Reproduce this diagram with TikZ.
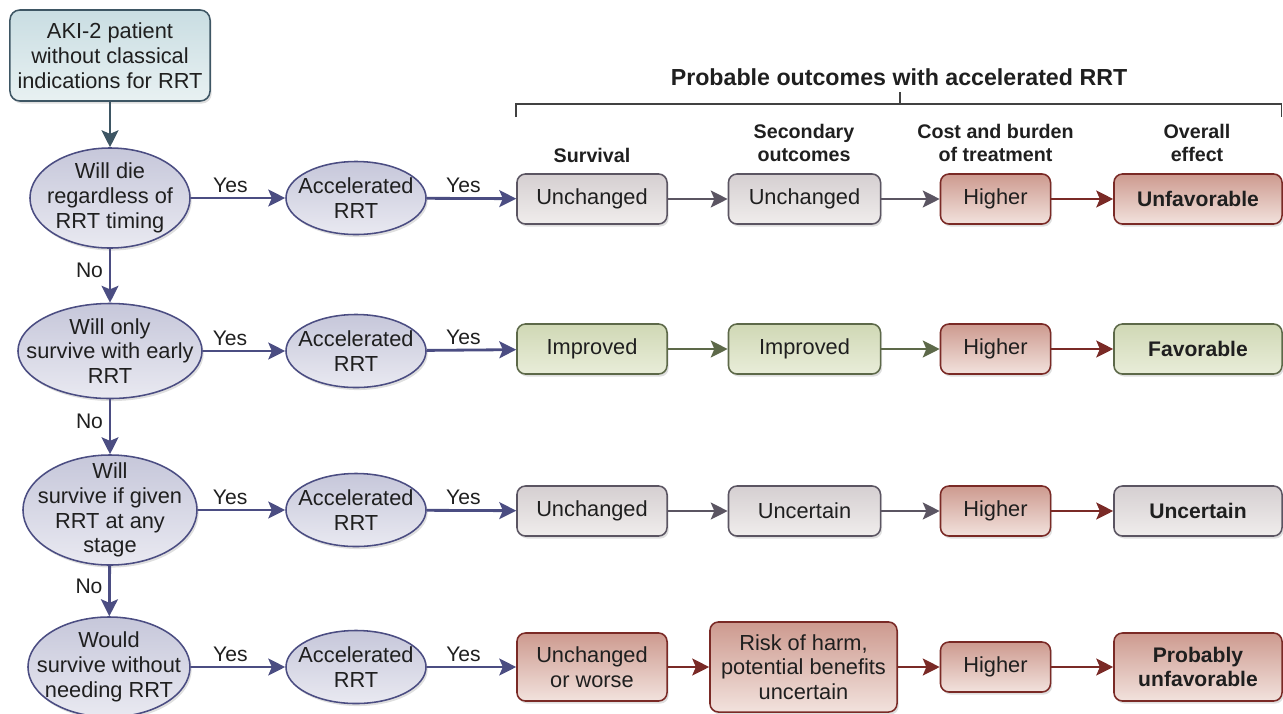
\documentclass[tikz,border=0pt]{standalone}
\usepackage{fontspec}
\setmainfont{Liberation Sans}
\usetikzlibrary{arrows.meta,shapes.geometric,shadows}
\definecolor{txt}{HTML}{1F1F1F}
\definecolor{tealtop}{HTML}{C9DDE2}
\definecolor{tealbot}{HTML}{E8F1F2}
\definecolor{tealline}{HTML}{3E5664}
\definecolor{ovtop}{HTML}{C6C7DA}
\definecolor{ovbot}{HTML}{E9E9F1}
\definecolor{ovline}{HTML}{4B4D82}
\definecolor{graytop}{HTML}{D5CFD1}
\definecolor{graybot}{HTML}{F0EDEC}
\definecolor{grayline}{HTML}{5B5562}
\definecolor{greentop}{HTML}{D0D8B5}
\definecolor{greenbot}{HTML}{E9EDD9}
\definecolor{greenline}{HTML}{5D6949}
\definecolor{redtop}{HTML}{CD9A8F}
\definecolor{redbot}{HTML}{F2E2DD}
\definecolor{redline}{HTML}{7A2A26}

\begin{document}
\begin{tikzpicture}[x=0.025cm,y=-0.025cm]
% STYLES
\tikzset{%
    base/.style={%
        font=\fontsize{15.5}{17.6}\selectfont, text=txt, align=center,
        inner sep=0pt, line width=1.1pt,
        drop shadow={shadow xshift=1.2pt, shadow yshift=-1.8pt, opacity=0.25}
    },
    start/.style={base, rectangle, rounded corners=7pt, draw=tealline,
        top color=tealtop, bottom color=tealbot,
        minimum width=5cm, minimum height=2.275cm},
    decision/.style={base, ellipse, draw=ovline,
        top color=ovtop, bottom color=ovbot,
        inner xsep=-14pt, inner ysep=-14pt},
    accel/.style={decision, minimum width=3.5cm, minimum height=1.825cm},
    outbox/.style={base, rectangle, rounded corners=6pt,
        minimum height=1.25cm},
    grayb/.style={outbox, draw=grayline, top color=graytop, bottom color=graybot},
    greenb/.style={outbox, draw=greenline, top color=greentop, bottom color=greenbot},
    redb/.style={outbox, draw=redline, top color=redtop, bottom color=redbot},
    head/.style={font=\bfseries\fontsize{14}{17}\selectfont, text=txt, align=center},
    link/.style={-{Stealth[length=12pt,width=12pt,inset=2.5pt]}, line width=2pt},
    lbl/.style={font=\fontsize{15}{17.4}\selectfont, text=txt, inner sep=1pt},
    yes/.style={lbl, above=2pt},
    no/.style={lbl, left=3pt, pos=.4}
}
\useasboundingbox (0,0) rectangle (1283,713);
% Decision column
\node [start] (patient) at (110,55.5) {AKI-2 patient\\without classical\\indications for RRT};
\node [decision, minimum width=4cm, minimum height=2.5cm] (die) at (110,198) {Will die\\regardless of\\RRT timing};
\node [decision, minimum width=4.6cm, minimum height=2.375cm] (early) at (110,351) {Will only\\survive with early\\RRT};
\node [decision, minimum width=4.35cm, minimum height=2.75cm] (anystage) at (110,510) {Will\\survive if given\\RRT at any\\stage};
\node [decision, minimum width=4.05cm, minimum height=2.5cm] (without) at (109,667) {Would\\survive without\\needing RRT};
% Accelerated RRT
\node [accel] (acc1) at (356,198) {Accelerated\\RRT};
\node [accel] (acc2) at (356,351) {Accelerated\\RRT};
\node [accel] (acc3) at (356,510) {Accelerated\\RRT};
\node [accel] (acc4) at (356,667) {Accelerated\\RRT};
% Outcome headings
\node [head, font=\bfseries\fontsize{16.5}{19}\selectfont] (title) at (899,77) {Probable outcomes with accelerated RRT};
\node [head] (hsurv) at (592,155) {Survival};
\node [head] (hsec) at (804,143) {Secondary\\outcomes};
\node [head] (hcost) at (995.5,143) {Cost and burden\\of treatment};
\node [head] (heff) at (1197,143) {Overall\\effect};
\draw [line width=0.8pt, draw=txt!85] (516,117) -- (516,104) -- (1281.5,104) -- (1281.5,117)
    (900,104) -- (900,92);
% Outcome rows
\node [grayb, minimum width=3.75cm] (surv1) at (592,199) {Unchanged};
\node [grayb, minimum width=3.8cm] (sec1) at (804.5,199) {Unchanged};
\node [redb, minimum width=2.75cm] (cost1) at (995.5,199) {Higher};
\node [redb, minimum width=4.2cm, font=\bfseries\fontsize{15}{17.4}\selectfont] (eff1) at (1198,199) {Unfavorable};
\node [greenb, minimum width=3.75cm] (surv2) at (592,349) {Improved};
\node [greenb, minimum width=3.8cm] (sec2) at (804.5,349) {Improved};
\node [redb, minimum width=2.75cm] (cost2) at (995.5,349) {Higher};
\node [greenb, minimum width=4.2cm, font=\bfseries\fontsize{15}{17.4}\selectfont] (eff2) at (1198,349) {Favorable};
\node [grayb, minimum width=3.75cm] (surv3) at (592,511) {Unchanged};
\node [grayb, minimum width=3.8cm] (sec3) at (804.5,511) {Uncertain};
\node [redb, minimum width=2.75cm] (cost3) at (995.5,511) {Higher};
\node [grayb, minimum width=4.2cm, font=\bfseries\fontsize{15}{17.4}\selectfont] (eff3) at (1198,511) {Uncertain};
\node [redb, minimum width=3.75cm, minimum height=1.7cm] (surv4) at (592,667) {Unchanged\\or worse};
\node [redb, minimum width=4.675cm, minimum height=2.25cm] (sec4) at (803.5,667) {Risk of harm,\\potential benefits\\uncertain};
\node [redb, minimum width=2.75cm] (cost4) at (995.5,667) {Higher};
\node [redb, minimum width=4.2cm, minimum height=1.7cm, font=\bfseries\fontsize{15}{17.4}\selectfont] (eff4) at (1198,667) {Probably\\unfavorable};
% Links
\draw [link, draw=tealline, fill=tealline] (patient) -- (die);
\path [every edge/.style={draw, link, draw=ovline, fill=ovline}]
    (die) edge node[no] {No} (early)
    (early) edge node[no] {No} (anystage)
    (anystage) edge node[no] {No} (without)
    (die) edge node[yes, pos=.42] {Yes} (acc1)
    (early) edge node[yes, pos=.33] {Yes} (acc2)
    (anystage) edge node[yes, pos=.37] {Yes} (acc3)
    (without) edge node[yes, pos=.42] {Yes} (acc4)
    (acc1) edge node[yes, pos=.41] {Yes} (surv1)
    (acc2) edge node[yes, pos=.41] {Yes} (surv2)
    (acc3) edge node[yes, pos=.41] {Yes} (surv3)
    (acc4) edge node[yes, pos=.41] {Yes} (surv4);
\path [every edge/.style={draw, link, draw=grayline, fill=grayline}]
    (surv1) edge (sec1) (sec1) edge (cost1)
    (surv3) edge (sec3) (sec3) edge (cost3);
\path [every edge/.style={draw, link, draw=greenline, fill=greenline}]
    (surv2) edge (sec2) (sec2) edge (cost2);
\path [every edge/.style={draw, link, draw=redline, fill=redline}]
    (cost1) edge (eff1) (cost2) edge (eff2) (cost3) edge (eff3)
    (surv4) edge (sec4) (sec4) edge (cost4) (cost4) edge (eff4);
\end{tikzpicture}
\end{document}
